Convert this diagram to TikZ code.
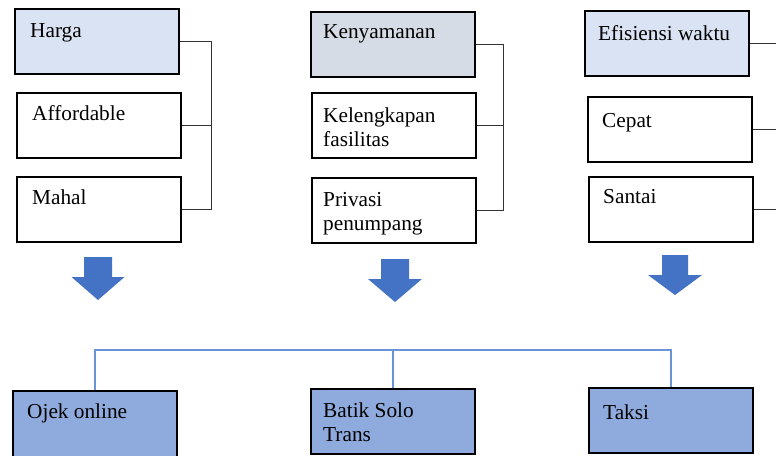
\documentclass[tikz,border=0pt]{standalone}
\usepackage{fontspec}
\setmainfont{Liberation Serif}
\definecolor{birumuda}{HTML}{DAE3F3}
\definecolor{abu}{HTML}{D6DCE5}
\definecolor{birutua}{HTML}{8FAADC}
\definecolor{panahbiru}{HTML}{4472C4}
\definecolor{garisbiru}{HTML}{6A93D8}
\tikzset{
  kotak/.style = {draw, line width=1.8pt, minimum width=164pt, minimum height=65pt,
                  anchor=north west, inner sep=0pt},
  isi/.style   = {anchor=base west, align=left, inner sep=0pt,
                  font=\fontsize{21.3}{24}\selectfont},
  kurung/.style = {draw=black!80, line width=1pt},
  hubung/.style = {draw=garisbiru, line width=1.3pt},
  panah/.style  = {fill=panahbiru}
}
\begin{document}
\begin{tikzpicture}[x=1pt, y=-1pt]
    \clip (0,0) rectangle (776,455);

    % kolom harga
    \node [kotak, fill=birumuda] (harga)  at (14,8)   {};
    \node [kotak]                (afford) at (16,92)  {};
    \node [kotak]                (mahal)  at (16,176) {};
    \node [isi] at ([shift={(16,29)}]harga.north west)  {Harga};
    \node [isi] at ([shift={(16,28)}]afford.north west) {Affordable};
    \node [isi] at ([shift={(16,28)}]mahal.north west)  {Mahal};

    % kolom kenyamanan
    \node [kotak, fill=abu] (nyaman)  at (310,11)  {};
    \node [kotak]           (lengkap) at (311,92)  {};
    \node [kotak]           (privasi) at (311,177) {};
    \node [isi] at ([shift={(13,27)}]nyaman.north west)  {Kenyamanan};
    % baris terakhir jadi acuan base
    \node [isi] at ([shift={(12,54)}]lengkap.north west) {Kelengkapan\\fasilitas};
    \node [isi] at ([shift={(12,53)}]privasi.north west) {Privasi\\penumpang};

    % kolom efisiensi waktu
    \node [kotak, fill=birumuda] (efisien) at (584,10)  {};
    \node [kotak]                (cepat)   at (587,96)  {};
    \node [kotak]                (santai)  at (588,176) {};
    \node [isi] at ([shift={(14,30)}]efisien.north west) {Efisiensi waktu};
    \node [isi] at ([shift={(15,31)}]cepat.north west)   {Cepat};
    \node [isi] at ([shift={(15,27)}]santai.north west)  {Santai};

    % kurung kanan
    \coordinate (batas1) at (211,0);
    \coordinate (batas2) at (503,0);
    \coordinate (batas3) at (790,0);
    \draw [kurung] (harga.east) -- (harga.east -| batas1) -- (mahal.east -| batas1) -- (mahal.east);
    \draw [kurung] (afford.east) -- (afford.east -| batas1);
    \draw [kurung] (nyaman.east) -- (nyaman.east -| batas2) -- (privasi.east -| batas2) -- (privasi.east);
    \draw [kurung] (lengkap.east) -- (lengkap.east -| batas2);
    \draw [kurung] (efisien.east) -- (efisien.east -| batas3);
    \draw [kurung] (cepat.east)   -- (cepat.east -| batas3);
    \draw [kurung] (santai.east)  -- (santai.east -| batas3);

    % panah biru
    \fill [panah, shift={(98,257)}]  (-14,0) -- (14,0) -- (14,20) -- (26.5,20) -- (0,43) -- (-26.5,20) -- (-14,20) -- cycle;
    \fill [panah, shift={(395,259)}] (-14,0) -- (14,0) -- (14,20) -- (27,20) -- (0,43) -- (-27,20) -- (-14,20) -- cycle;
    \fill [panah, shift={(675,255)}] (-13,0) -- (13,0) -- (13,20) -- (27,20) -- (0,40) -- (-27,20) -- (-13,20) -- cycle;

    % pilihan transportasi
    \node [kotak, fill=birutua, minimum height=75pt] (ojek)  at (12,390)  {};
    \node [kotak, fill=birutua]                      (batik) at (310,388) {};
    \node [kotak, fill=birutua]                      (taksi) at (588,387) {};
    \node [isi] at ([shift={(15,28)}]ojek.north west)  {Ojek online};
    \node [isi] at ([shift={(13,53)}]batik.north west) {Batik Solo\\Trans};
    \node [isi] at ([shift={(15,32)}]taksi.north west) {Taksi};

    \coordinate (rel) at (0,350);
    \draw [hubung] (ojek.north) -- (ojek.north |- rel) -- (taksi.north |- rel) -- (taksi.north);
    \draw [hubung] (batik.north) -- (batik.north |- rel);
\end{tikzpicture}
\end{document}
